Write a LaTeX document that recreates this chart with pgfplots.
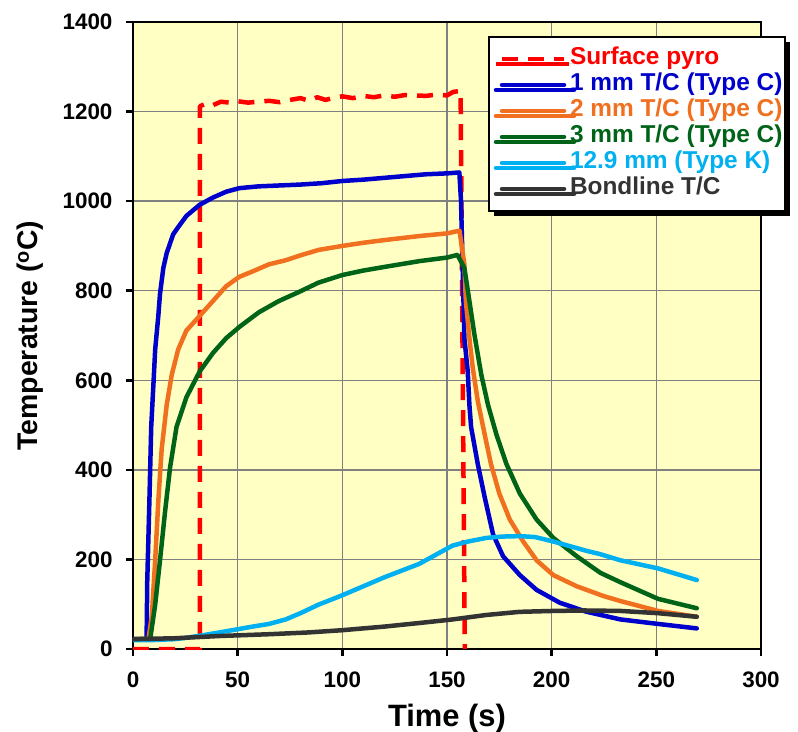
\documentclass[border=0pt]{standalone}
\usepackage{pgfplots}
\pgfplotsset{compat=1.18}
\usepackage{fontspec}
\setmainfont{Liberation Sans}
\usetikzlibrary{shadows}
\definecolor{bgyellow}{RGB}{255,255,196}
\definecolor{cred}{RGB}{255,0,0}
\definecolor{cblue}{RGB}{0,0,204}
\definecolor{corange}{RGB}{240,112,32}
\definecolor{cgreen}{RGB}{0,100,24}
\definecolor{ccyan}{RGB}{0,176,240}
\definecolor{cblack}{RGB}{51,51,51}
\definecolor{cgrid}{RGB}{128,128,128}
\begin{document}
\begin{tikzpicture}
\useasboundingbox (-133bp,-83bp) rectangle (665bp,649bp);
\begin{axis}[
  at={(0,0)}, anchor=south west,
  scale only axis, width=628bp, height=627bp,
  xmin=0, xmax=300, ymin=0, ymax=1400,
  xtick={0,50,...,300}, ytick={0,200,...,1400},
  axis background/.style={fill=bgyellow},
  grid=major, major grid style={cgrid, line width=1.3bp},
  axis line style={line width=2.5bp, black},
  tick align=outside, tick pos=left,
  major tick length=7bp,
  tick style={line width=2.5bp, black},
  /pgf/number format/assume math mode=true,
  /pgf/number format/1000 sep={},
  tick label style={font=\fontsize{22.5}{23}\selectfont\bfseries},
  xticklabel style={yshift=-12bp}, yticklabel style={xshift=-10bp},
  xlabel style={font=\fontsize{31}{32}\selectfont\bfseries},
  ylabel style={font=\fontsize{28.5}{30}\selectfont\bfseries},
  xlabel shift=10bp, ylabel shift=12bp,
  xlabel={Time (s)},
  ylabel={Temperature (\textsuperscript{o}C)},
  legend image code/.code={\path[draw=none,fill=none] (-11bp,0bp) -- (67bp,0bp); \draw[#1] (0bp,0bp) -- (62bp,0bp);},
  legend cell align=left,
  legend style={at={(0.5653,0.9777)}, anchor=north west, draw=black, line width=2bp, fill=white,
    drop shadow={shadow xshift=5bp, shadow yshift=-5bp, fill=black, opacity=1},
    font=\fontsize{24.5}{25}\selectfont\bfseries, row sep=0bp,
    inner xsep=2bp, inner ysep=9bp,
    nodes={inner xsep=1bp, inner ysep=1bp, text height=18bp, text depth=6bp}},
  every axis plot/.append style={line width=4.5bp, line join=round, line cap=round},
]
\addplot[cred, dash pattern=on 16bp off 10bp, line cap=butt] coordinates {
(0,0) (32,0) (32,1212) (35,1218) (38,1214) (42,1222) (46,1220) (50,1223) (55,1220) (60,1222)
(65,1224) (70,1221) (75,1226) (80,1230) (84,1224) (88,1232) (92,1226) (96,1231) (100,1234)
(105,1230) (110,1235) (115,1232) (120,1236) (125,1233) (130,1237) (135,1236) (140,1235)
(145,1238) (150,1236) (153,1244) (156.5,1246) (158.5,0)};
\addlegendentry{\textcolor{cred}{Surface pyro}}
\addplot[cblue] coordinates {
(0,22) (6.5,22) (6.8,150) (7.9,343) (8.7,496) (9.8,595) (10.6,669) (12.1,744) (12.9,793)
(14.5,851) (16.1,884) (19.2,926) (21.6,942) (25.5,967) (31.9,992) (38.2,1008) (44.5,1021)
(50.8,1029) (60,1033) (70,1035) (80,1037) (90,1040) (100,1045) (110,1048) (120,1052)
(130,1056) (140,1060) (150,1062) (155.9,1064) (156.7,1000) (158.3,694) (159.9,620)
(160.7,545) (161.5,496) (164.7,413) (168,339) (172,256) (176.8,207) (184.8,165)
(192.8,132) (204,103) (216.8,83) (232.9,66) (250.8,56) (269.3,46)};
\addlegendentry{\textcolor{cblue}{1 mm T/C (Type C)}\hspace{16bp}}
\addplot[corange] coordinates {
(0,22) (7.4,22) (9,74) (10.6,198) (12.1,331) (13.7,446) (16.1,545) (18.5,612) (21.6,669)
(25.5,711) (31.9,744) (38.2,777) (44.5,810) (50.8,831) (57.1,843) (65,859) (72.9,868)
(80.7,880) (88.6,891) (100,900) (110,907) (120,913) (136.7,922) (150,928) (156,934)
(158.3,859) (159,777) (160.7,694) (162.3,628) (164.7,554) (168,479) (171,413) (175,347)
(180,289) (186.4,240) (192.8,198) (200.8,165) (212,140) (224.9,118) (232.9,107)
(250.8,85) (269.3,72)};
\addlegendentry{\textcolor{corange}{2 mm T/C (Type C)}}
\addplot[cgreen] coordinates {
(0,22) (8.2,22) (10.6,99) (12.9,198) (15.3,306) (17.7,405) (20.8,496) (25.5,562)
(31.9,620) (38.2,661) (44.5,694) (50.8,719) (60.2,752) (69.7,777) (79.2,797) (88.6,818)
(100,835) (110,845) (120,853) (136.7,866) (150,874) (155,880) (158.3,851) (160.7,777)
(163.1,702) (166.4,612) (169.6,545) (173.6,479) (178.4,413) (184.8,347) (192.8,289)
(200.8,248) (212,207) (223.3,170) (232.9,149) (250.8,112) (269.3,91)};
\addlegendentry{\textcolor{cgreen}{3 mm T/C (Type C)}}
\addplot[ccyan] coordinates {
(0,20) (10,20) (20,22) (25.5,25) (35,32) (45,40) (57.1,50) (65,56) (72.9,66) (80,80)
(88.6,99) (100,120) (110,140) (120,160) (136.7,190) (152.7,231) (160,240) (168.8,248)
(176,251) (184.8,252) (192,250) (200.8,240) (216.8,219) (223,212) (232.9,198)
(250.8,180) (269.3,154)};
\addlegendentry{\textcolor{ccyan}{12.9 mm (Type K)}}
\addplot[cblack] coordinates {
(0,22) (20,24) (41.3,29) (65,33) (83.9,37) (100,42) (120,50) (136.7,58) (152.7,66)
(168.8,76) (184.8,83) (200.8,85) (216,86) (232.9,85) (250.8,80) (269.3,72)};
\addlegendentry{\textcolor{cblack}{Bondline T/C}}
\end{axis}
\end{tikzpicture}
\end{document}
